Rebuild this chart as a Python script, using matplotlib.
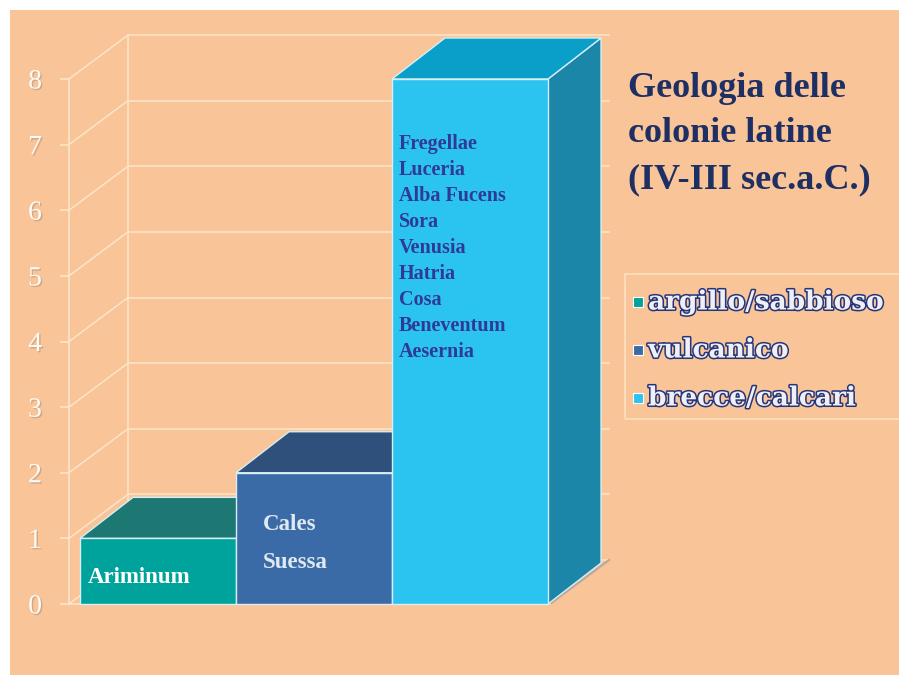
import matplotlib
matplotlib.use('agg')
import matplotlib.pyplot as plt
import matplotlib.patheffects as pe
from matplotlib.patches import Polygon, Rectangle

# geology of the latin colonies, number of colonies per soil type
categories = ['argillo/sabbioso', 'vulcanico', 'brecce/calcari']
counts = [1, 2, 8]
colonies = [['Ariminum'],
            ['Cales', 'Suessa'],
            ['Fregellae', 'Luceria', 'Alba Fucens', 'Sora', 'Venusia',
             'Hatria', 'Cosa', 'Beneventum', 'Aesernia']]
yticks = [0, 1, 2, 3, 4, 5, 6, 7, 8]
title = 'Geologia delle\ncolonie latine\n(IV-III sec.a.C.)'

front_colors = ['#00a39b', '#3b6ba6', '#2bc4f0']
top_colors = ['#1d7772', '#2f507a', '#0a9fc8']
side_colors = ['#16625e', '#274466', '#1c86a8']
peach = '#f9c497'
grid_col = '#fde5c9'
serif = 'Liberation Serif'

W, H = 899, 675
fig = plt.figure(figsize=(W / 100, H / 100), dpi=100)
fig.patches.append(Rectangle((10 / W, 0), 1, 1 - 10 / H, transform=fig.transFigure,
                             facecolor=peach, edgecolor='none', zorder=0))

ax = fig.add_axes([69 / W, 71 / H, 481 / W, 525 / H])
ax.set_zorder(1)
ax.set_facecolor('none')
xmin, xmax = -0.5 - 11 / 156, 2.5 + 2 / 156
ax.set_xlim(xmin, xmax)
ax.set_ylim(0, 8)

# depth of the 3d box and of the bars, in data units
DXW, DYW = 0.378, 0.67
DXB, DYB = 0.34, 0.625

# walls: left side diagonals, back wall grid
for t in yticks:
    ax.plot([xmin, xmin + DXW], [t, t + DYW], color=grid_col, lw=1.1, clip_on=False, zorder=1)
    ax.plot([xmin + DXW, xmax + DXW], [t + DYW, t + DYW], color=grid_col, lw=1.1,
            clip_on=False, zorder=1)
ax.plot([xmin + DXW, xmin + DXW], [DYW, yticks[-1] + DYW], color=grid_col, lw=1.1,
        clip_on=False, zorder=1)
ax.plot([xmax, xmax + DXW], [0, DYW], color='#b8aaa0', lw=1.6, clip_on=False, zorder=1)

for s in ['top', 'right']:
    ax.spines[s].set_visible(False)
for s in ['left', 'bottom']:
    ax.spines[s].set_color(grid_col)
    ax.spines[s].set_linewidth(1.2)
ax.set_xticks([])
ax.set_yticks(yticks)
ax.set_yticklabels([str(t) for t in yticks])
ax.tick_params(axis='y', length=6.5, width=1.2, color=grid_col, pad=13,
               labelsize=20, labelcolor='#fffaf4')
for lab in ax.get_yticklabels():
    lab.set_fontfamily(serif)
    lab.set_path_effects([pe.withSimplePatchShadow(offset=(1, -1), shadow_rgbFace='#a08c7c', alpha=0.5)])

# bars: front face via bar(), top and side faces as polygons
edge = '#d6eef6'
for i, v in enumerate(counts):
    z = 3 + i
    x0, x1 = i - 0.5, i + 0.5
    ax.add_patch(Polygon([(x1, 0), (x1 + DXB, DYB), (x1 + DXB, v + DYB), (x1, v)],
                         facecolor=side_colors[i], edgecolor=edge, lw=1, clip_on=False, zorder=z))
    ax.add_patch(Polygon([(x0, v), (x1, v), (x1 + DXB, v + DYB), (x0 + DXB, v + DYB)],
                         facecolor=top_colors[i], edgecolor=edge, lw=1, clip_on=False, zorder=z))
    ax.bar(i, v, width=1.0, color=front_colors[i], edgecolor=edge, lw=1, zorder=z + 0.5,
           clip_on=False)

# colony names on each bar
label_colors = ['white', '#dfe8f3', '#2f3a96']
label_sizes = [16.5, 16.5, 14.5]
label_dx = [8 / 156, 27 / 156, 7 / 156]
label_y = [0.41, 0.92, 5.42]
label_ls = [1.0, 2.08, 1.4]
for i, names in enumerate(colonies):
    ax.text(i - 0.5 + label_dx[i], label_y[i], '\n'.join(names), color=label_colors[i],
            fontsize=label_sizes[i], fontweight='bold', family=serif, va='center', ha='left',
            linespacing=label_ls[i], zorder=10)

fig.text(628 / W, 1 - 134 / H, title, color='#1e2f63', fontsize=26, fontweight='bold',
         family=serif, va='center', ha='left', linespacing=1.5)

# legend box
fig.patches.append(Rectangle((625 / W, 1 - 419 / H), 300 / W, 145 / H, transform=fig.transFigure,
                             facecolor='none', edgecolor='#fde0c0', lw=1.2, zorder=2))
for i, name in enumerate(categories):
    yc = 1 - (302 + 48 * i) / H
    fig.patches.append(Rectangle((633 / W, yc - 5 / H), 10 / W, 10 / H, transform=fig.transFigure,
                                 facecolor=front_colors[i], edgecolor='white', lw=0.8, zorder=3))
    fig.text(648 / W, yc, name, color='#eef0f6', fontsize=19, fontweight='bold',
             family='DejaVu Serif', va='center', ha='left',
             path_effects=[pe.Stroke(linewidth=2.2, foreground='#27357a'), pe.Normal()])

fig.savefig('out.png', dpi=100)
